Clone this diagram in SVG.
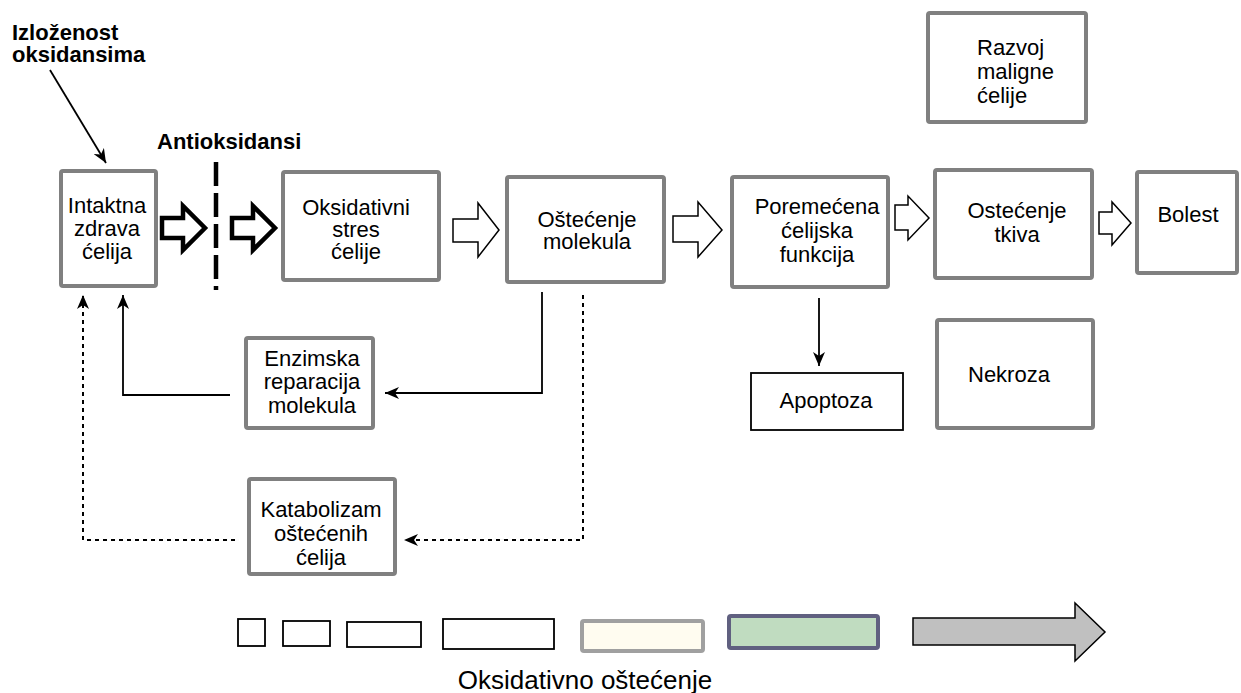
<svg xmlns="http://www.w3.org/2000/svg" width="1241" height="693" viewBox="0 0 1241 693">
<defs>
<style>
.box{fill:#fff;stroke:#808080;stroke-width:4}
.t{font-family:"Liberation Sans",Arial,sans-serif;font-size:22px;fill:#000}
.c{text-anchor:middle}
.b{font-weight:bold}
.con{fill:none;stroke:#000;stroke-width:1.8}
.dot{fill:none;stroke:#000;stroke-width:2;stroke-dasharray:4 4}
.thick{fill:#fff;stroke:#000;stroke-width:4.5;stroke-linejoin:miter}
.thin{fill:#fff;stroke:#000;stroke-width:1.5}
</style>
<marker id="ah" markerUnits="userSpaceOnUse" markerWidth="16" markerHeight="12" refX="14" refY="6" orient="auto">
<path d="M0,0 L14,6 L0,12 L4,6 z" fill="#000"/>
</marker>
</defs>
<rect width="1241" height="693" fill="#fff"/>

<g id="labels">
<text class="t b" x="12" y="40">Izloženost</text>
<text class="t b" x="12" y="62">oksidansima</text>
<text class="t b" x="157" y="149">Antioksidansi</text>
</g>

<g id="connectors">
<path class="con" d="M50,70 L106,163" marker-end="url(#ah)"/>
<line x1="216" y1="162" x2="216" y2="290" stroke="#000" stroke-width="4.5" stroke-dasharray="24 7"/>
<polygon class="thick" points="162,218 183,218 183,206 205,228 183,250 183,238 162,238"/>
<polygon class="thick" points="232,218 253,218 253,206 275,228 253,250 253,238 232,238"/>
<polygon class="thin" points="453,219 478,219 478,203 499,230 478,257 478,242 453,242"/>
<polygon class="thin" points="673,216 698,216 698,202 722,230 698,257 698,242 673,242"/>
<polygon class="thin" points="895,205 908,205 908,196 929,218 908,240 908,230 895,230"/>
<polygon class="thin" points="1099,212 1112,212 1112,202 1131,223 1112,245 1112,234 1099,234"/>
<path class="con" d="M542,292 V393 H385" marker-end="url(#ah)"/>
<path class="con" d="M230,395 H123 V295" marker-end="url(#ah)"/>
<path class="dot" d="M583,295 V540 H404" marker-end="url(#ah)"/>
<path class="dot" d="M235,540 H83 V295" marker-end="url(#ah)"/>
<path class="con" d="M819,298 V366" marker-end="url(#ah)"/>
</g>

<g id="intaktna">
<rect class="box" x="61" y="171" width="95" height="115" rx="2"/>
<text class="t c" x="107" y="213">Intaktna</text>
<text class="t c" x="107" y="236">zdrava</text>
<text class="t c" x="107" y="259">ćelija</text>
</g>
<g id="oksidativni">
<rect class="box" x="283" y="172" width="156" height="108" rx="2"/>
<text class="t c" x="356" y="215">Oksidativni</text>
<text class="t c" x="356" y="237">stres</text>
<text class="t c" x="356" y="259">ćelije</text>
</g>
<g id="ostecenje-molekula">
<rect class="box" x="507" y="177" width="157" height="105" rx="2"/>
<text class="t c" x="587" y="227">Oštećenje</text>
<text class="t c" x="587" y="249">molekula</text>
</g>
<g id="poremecena">
<rect class="box" x="732" y="177" width="156" height="110" rx="2"/>
<text class="t c" x="817" y="214">Poremećena</text>
<text class="t c" x="817" y="238">ćelijska</text>
<text class="t c" x="817" y="262">funkcija</text>
</g>
<g id="ostecenje-tkiva">
<rect class="box" x="935" y="170" width="157" height="108" rx="2"/>
<text class="t c" x="1017" y="218">Ostećenje</text>
<text class="t c" x="1017" y="242">tkiva</text>
</g>
<g id="bolest">
<rect class="box" x="1137" y="172" width="100" height="101" rx="2"/>
<text class="t c" x="1188" y="222">Bolest</text>
</g>
<g id="razvoj">
<rect class="box" x="928" y="13" width="158" height="109" rx="2"/>
<text class="t" x="977" y="55">Razvoj</text>
<text class="t" x="977" y="79">maligne</text>
<text class="t" x="977" y="103">ćelije</text>
</g>
<g id="nekroza">
<rect class="box" x="937" y="320" width="156" height="108" rx="2"/>
<text class="t" x="968" y="382">Nekroza</text>
</g>
<g id="apoptoza">
<rect x="751" y="373" width="152" height="57" fill="#fff" stroke="#000" stroke-width="1.8"/>
<text class="t c" x="826" y="408">Apoptoza</text>
</g>
<g id="enzimska">
<rect class="box" x="246" y="338" width="127" height="90" rx="2"/>
<text class="t c" x="312" y="366">Enzimska</text>
<text class="t c" x="312" y="389">reparacija</text>
<text class="t c" x="312" y="413">molekula</text>
</g>
<g id="katabolizam">
<rect class="box" x="249" y="479" width="146" height="95" rx="2"/>
<text class="t c" x="321" y="517">Katabolizam</text>
<text class="t c" x="321" y="541">oštećenih</text>
<text class="t c" x="321" y="565">ćelija</text>
</g>

<g id="legend">
<rect x="238" y="619" width="27" height="27" fill="#fff" stroke="#000" stroke-width="1.8"/>
<rect x="283" y="621" width="47" height="25" fill="#fff" stroke="#000" stroke-width="1.8"/>
<rect x="347" y="622" width="74" height="25" fill="#fff" stroke="#000" stroke-width="1.8"/>
<rect x="443" y="619" width="111" height="30" fill="#fff" stroke="#000" stroke-width="1.8"/>
<rect x="582" y="621" width="121" height="30" rx="2" fill="#fffcf0" stroke="#a0a0a0" stroke-width="4"/>
<rect x="729" y="616" width="149" height="32" rx="2" fill="#c0dcc0" stroke="#606080" stroke-width="4"/>
<polygon points="913,618 1075,618 1075,603 1105,632 1075,661 1075,645 913,645" fill="#c0c0c0" stroke="#000" stroke-width="1.5"/>
<text x="585" y="689" text-anchor="middle" font-family="Liberation Sans, Arial, sans-serif" font-size="26">Oksidativno oštećenje</text>
</g>
</svg>
